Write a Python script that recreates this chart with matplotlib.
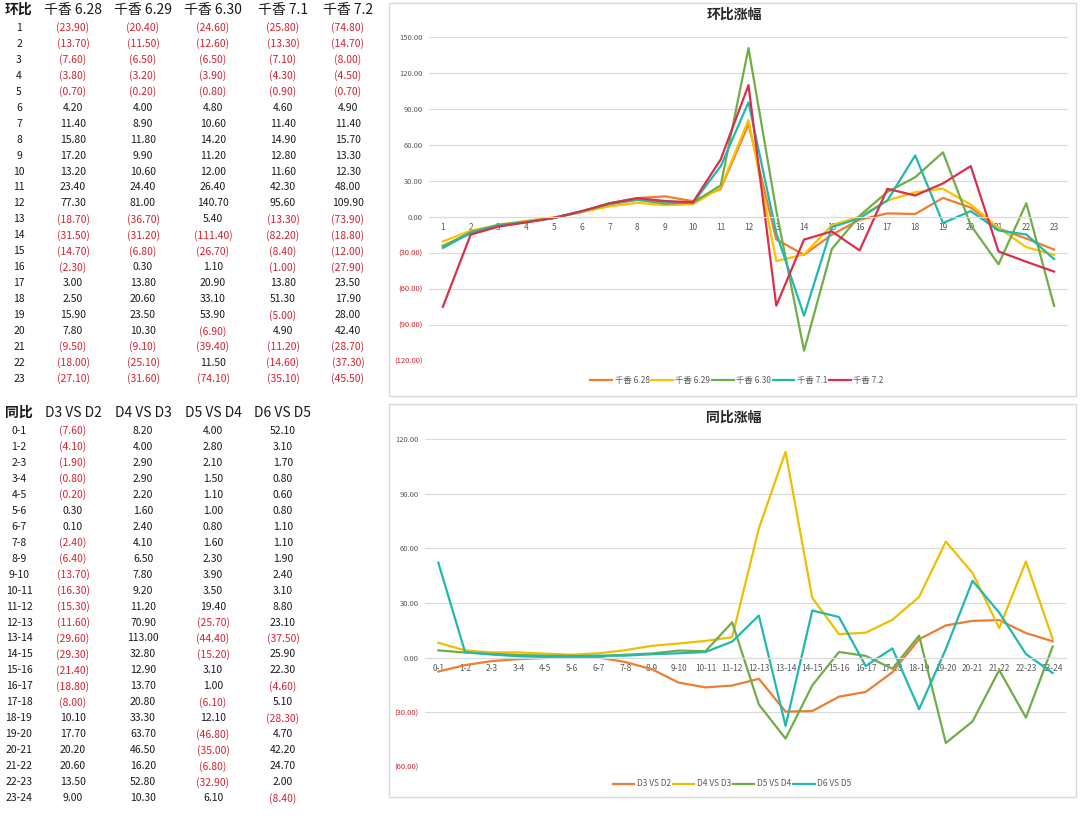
import numpy as np
import matplotlib
matplotlib.use("Agg")
import matplotlib.pyplot as plt
from matplotlib.patches import Rectangle

plt.rcParams['font.family'] = ['Noto Sans CJK SC', 'DejaVu Sans']

# 环比 data (hour over hour), one list per day
hours = [str(i) for i in range(1, 24)]
ring_names = ["千香 6.28", "千香 6.29", "千香 6.30", "千香 7.1", "千香 7.2"]
s628 = [-23.9, -13.7, -7.6, -3.8, -0.7, 4.2, 11.4, 15.8, 17.2, 13.2, 23.4, 77.3,
        -18.7, -31.5, -14.7, -2.3, 3.0, 2.5, 15.9, 7.8, -9.5, -18.0, -27.1]
s629 = [-20.4, -11.5, -6.5, -3.2, -0.2, 4.0, 8.9, 11.8, 9.9, 10.6, 24.4, 81.0,
        -36.7, -31.2, -6.8, 0.3, 13.8, 20.6, 23.5, 10.3, -9.1, -25.1, -31.6]
s630 = [-24.6, -12.6, -6.5, -3.9, -0.8, 4.8, 10.6, 14.2, 11.2, 12.0, 26.4, 140.7,
        5.4, -111.4, -26.7, 1.1, 20.9, 33.1, 53.9, -6.9, -39.4, 11.5, -74.1]
s71 = [-25.8, -13.3, -7.1, -4.3, -0.9, 4.6, 11.4, 14.9, 12.8, 11.6, 42.3, 95.6,
       -13.3, -82.2, -8.4, -1.0, 13.8, 51.3, -5.0, 4.9, -11.2, -14.6, -35.1]
s72 = [-74.8, -14.7, -8.0, -4.5, -0.7, 4.9, 11.4, 15.7, 13.3, 12.3, 48.0, 109.9,
       -73.9, -18.8, -12.0, -27.9, 23.5, 17.9, 28.0, 42.4, -28.7, -37.3, -45.5]

# 同比 data (day over day), one list per comparison
periods = [f"{i}-{i + 1}" for i in range(24)]
yoy_names = ["D3 VS D2", "D4 VS D3", "D5 VS D4", "D6 VS D5"]
d3d2 = [-7.6, -4.1, -1.9, -0.8, -0.2, 0.3, 0.1, -2.4, -6.4, -13.7, -16.3, -15.3,
        -11.6, -29.6, -29.3, -21.4, -18.8, -8.0, 10.1, 17.7, 20.2, 20.6, 13.5, 9.0]
d4d3 = [8.2, 4.0, 2.9, 2.9, 2.2, 1.6, 2.4, 4.1, 6.5, 7.8, 9.2, 11.2,
        70.9, 113.0, 32.8, 12.9, 13.7, 20.8, 33.3, 63.7, 46.5, 16.2, 52.8, 10.3]
d5d4 = [4.0, 2.8, 2.1, 1.5, 1.1, 1.0, 0.8, 1.6, 2.3, 3.9, 3.5, 19.4,
        -25.7, -44.4, -15.2, 3.1, 1.0, -6.1, 12.1, -46.8, -35.0, -6.8, -32.9, 6.1]
d6d5 = [52.1, 3.1, 1.7, 0.8, 0.6, 0.8, 1.1, 1.1, 1.9, 2.4, 3.1, 8.8,
        23.1, -37.5, 25.9, 22.3, -4.6, 5.1, -28.3, 4.7, 42.2, 24.7, 2.0, -8.4]

ring_series = [s628, s629, s630, s71, s72]
yoy_series = [d3d2, d4d3, d5d4, d6d5]
ring_colors = ["#ED7D31", "#FFC000", "#70AD47", "#22B8B0", "#D8304A"]
yoy_colors = ["#ED7D31", "#F0BE00", "#70AD47", "#22B8B0"]

RED = "#D42230"
INK = "#1A1A1A"
GREY = "#595959"
W, H = 1080, 819


def fmt(v):
    return f"({abs(v):.2f})" if v < 0 else f"{v:.2f}"


def fx(x):
    return x / W


def fy(y):
    return 1 - y / H


fig = plt.figure(figsize=(10.8, 8.19), dpi=100)


# ---- left tables ----
def draw_table(corner, headers, labels, cols, col_x, head_y, row0, step):
    fig.text(fx(col_x[0]), fy(head_y), corner, ha='center', va='center',
             fontsize=10, fontweight='bold', color=INK)
    for cx, h in zip(col_x[1:], headers):
        fig.text(fx(cx), fy(head_y), h, ha='center', va='center',
                 fontsize=10, fontweight='medium', color=INK)
    for r, lab in enumerate(labels):
        y = row0 + r * step
        fig.text(fx(col_x[0]), fy(y), lab, ha='center', va='center',
                 fontsize=7.5, color=INK)
        for cx, col in zip(col_x[1:], cols):
            v = col[r]
            fig.text(fx(cx), fy(y), fmt(v), ha='center', va='center',
                     fontsize=7.5, color=RED if v < 0 else INK)


draw_table("环比", ring_names, hours, ring_series,
           [19, 73, 143, 213, 283, 348], 10, 28, 15.95)
draw_table("同比", yoy_names, periods, yoy_series,
           [19, 73, 143, 213, 283], 413, 431, 15.96)


# ---- right charts ----
def style_axes(ax, labels, ylo, yhi):
    ax.set_xlim(-0.5, len(labels) - 0.5)
    ax.set_ylim(ylo, yhi)
    ax.set_yticks(np.arange(ylo, yhi + 1, 30))
    ax.set_yticklabels([fmt(t) for t in ax.get_yticks()])
    for t, lab in zip(ax.get_yticks(), ax.get_yticklabels()):
        lab.set_color(RED if t < 0 else GREY)
    ax.set_xticks(np.arange(len(labels)))
    ax.set_xticklabels(labels)
    ax.tick_params(axis='y', length=0, pad=4.5, labelsize=5.5)
    ax.tick_params(axis='x', length=0, pad=4.5, labelsize=6, labelcolor=GREY)
    ax.grid(axis='y', color='#D9D9D9', lw=0.8)
    ax.set_axisbelow(True)
    for s in ['top', 'right', 'left']:
        ax.spines[s].set_visible(False)
    ax.spines['bottom'].set_position(('data', 0))
    ax.spines['bottom'].set_color('#D9D9D9')
    ax.spines['bottom'].set_linewidth(0.8)
    ax.patch.set_alpha(0)


# chart boxes
for x0, y0, x1, y1 in [(389, 3, 1076, 396), (389, 404, 1076, 797)]:
    fig.add_artist(Rectangle((fx(x0), fy(y1)), (x1 - x0) / W, (y1 - y0) / H,
                             transform=fig.transFigure, fill=False,
                             ec='#D9D9D9', lw=1.0))

ax1 = fig.add_axes([fx(429), fy(361), (1068 - 429) / W, (361 - 37) / H])
for s, name, c in zip(ring_series, ring_names, ring_colors):
    ax1.plot(np.arange(len(hours)), s, color=c, lw=1.6, label=name)
style_axes(ax1, hours, -120, 150)
fig.text(fx(734), fy(15), "环比涨幅", ha='center', va='center',
         fontsize=10, fontweight='bold', color='#262626')
fig.legend(*ax1.get_legend_handles_labels(), loc='center',
           bbox_to_anchor=(fx(737), fy(380)), ncol=5, frameon=False,
           fontsize=6, handlelength=2.6, handletextpad=0.3, columnspacing=0.2,
           labelcolor=GREY)

ax2 = fig.add_axes([fx(425), fy(767), (1066 - 425) / W, (767 - 439) / H])
for s, name, c in zip(yoy_series, yoy_names, yoy_colors):
    ax2.plot(np.arange(len(periods)), s, color=c, lw=1.6, label=name)
style_axes(ax2, periods, -60, 120)
fig.text(fx(734), fy(418), "同比涨幅", ha='center', va='center',
         fontsize=10, fontweight='bold', color='#262626')
fig.legend(*ax2.get_legend_handles_labels(), loc='center',
           bbox_to_anchor=(fx(732), fy(784)), ncol=4, frameon=False,
           fontsize=6, handlelength=2.6, handletextpad=0.3, columnspacing=0.2,
           labelcolor=GREY)

fig.savefig("out.png", dpi=100, facecolor='white')
